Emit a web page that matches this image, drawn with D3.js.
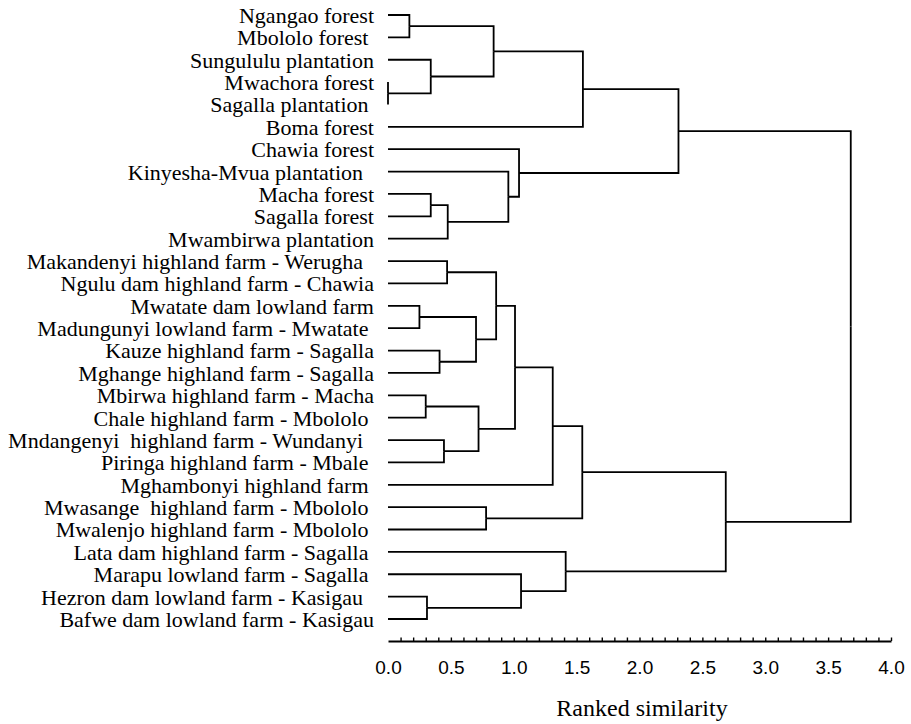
<!DOCTYPE html>
<html>
<head>
<meta charset="utf-8">
<script src="https://cdn.jsdelivr.net/npm/d3@7"></script>
<style>
  html, body { margin: 0; padding: 0; background: #fff; }
  svg { display: block; }
  .serif { font-family: "Liberation Serif", "Times New Roman", "DejaVu Serif", serif; }
  .sans { font-family: "Liberation Sans", Arial, "DejaVu Sans", sans-serif; }
</style>
</head>
<body>
<svg id="chart" width="911" height="724"></svg>
<script>
// Site names, top to bottom (trailing spaces kept as in the source labels)
const leaves = [
  "Ngangao forest",
  "Mbololo forest ",
  "Sungululu plantation",
  "Mwachora forest",
  "Sagalla plantation ",
  "Boma forest",
  "Chawia forest",
  "Kinyesha-Mvua plantation  ",
  "Macha forest",
  "Sagalla forest",
  "Mwambirwa plantation",
  "Makandenyi highland farm - Werugha  ",
  "Ngulu dam highland farm - Chawia",
  "Mwatate dam lowland farm",
  "Madungunyi lowland farm - Mwatate ",
  "Kauze highland farm - Sagalla",
  "Mghange highland farm - Sagalla",
  "Mbirwa highland farm - Macha",
  "Chale highland farm - Mbololo ",
  "Mndangenyi  highland farm - Wundanyi  ",
  "Piringa highland farm - Mbale ",
  "Mghambonyi highland farm ",
  "Mwasange  highland farm - Mbololo ",
  "Mwalenjo highland farm - Mbololo ",
  "Lata dam highland farm - Sagalla ",
  "Marapu lowland farm - Sagalla ",
  "Hezron dam lowland farm - Kasigau  ",
  "Bafwe dam lowland farm - Kasigau"
];

// Linkage: [child A, child B, joining distance]; ids 0-27 are sites,
// merge i gets id 28 + i
const merges = [
  [3, 4, 0.00],
  [0, 1, 0.17],
  [13, 14, 0.25],
  [17, 18, 0.30],
  [26, 27, 0.31],
  [2, 28, 0.34],
  [8, 9, 0.34],
  [15, 16, 0.41],
  [19, 20, 0.445],
  [11, 12, 0.47],
  [34, 10, 0.475],
  [30, 35, 0.70],
  [31, 36, 0.72],
  [22, 23, 0.78],
  [29, 33, 0.84],
  [37, 39, 0.86],
  [7, 38, 0.957],
  [43, 40, 1.01],
  [6, 44, 1.042],
  [25, 32, 1.058],
  [45, 21, 1.31],
  [24, 47, 1.413],
  [48, 41, 1.545],
  [42, 5, 1.55],
  [51, 46, 2.31],
  [50, 49, 2.686],
  [52, 53, 3.68]
];

const axisDomain = [0, 4];
const majorTicks = [0.0, 0.5, 1.0, 1.5, 2.0, 2.5, 3.0, 3.5, 4.0];
const minorTicks = d3.range(1, 41).map(i => i / 10);
const axisTitle = "Ranked similarity";

const svg = d3.select("#chart");

const x = d3.scaleLinear().domain(axisDomain).range([388, 891]);
const y = d3.scalePoint().domain(d3.range(leaves.length)).range([15, 619]);

// Build the cluster tree from the linkage list
const nodes = leaves.map((name, i) => ({ name, index: i, dist: 0 }));
merges.forEach(([a, b, h]) => nodes.push({ children: [nodes[a], nodes[b]], dist: h }));
const root = d3.hierarchy(nodes[nodes.length - 1]);

// Leaves sit on their rows; each join sits midway between its two branches
root.eachAfter(n => {
  n.yPos = n.children ? d3.mean(n.children, c => c.yPos) : y(n.data.index);
});

// Elbow branches
svg.append("g")
  .attr("fill", "none")
  .attr("stroke", "#000")
  .attr("stroke-width", 1.8)
  .selectAll("path")
  .data(root.links())
  .join("path")
  .attr("d", l => `M${x(l.target.data.dist)},${l.target.yPos}H${x(l.source.data.dist)}V${l.source.yPos}`);

// Site labels
svg.append("g")
  .attr("class", "serif")
  .style("font-size", "22px")
  .attr("fill", "#000")
  .selectAll("text")
  .data(root.leaves())
  .join("text")
  .attr("class", "serif")
  .style("white-space", "pre")
  .attr("x", 374)
  .attr("y", d => d.yPos)
  .attr("dy", "0.36em")
  .attr("text-anchor", "end")
  .text(d => d.data.name);

// Distance axis: minor ticks on the line
const axisY = 641;
const minorAxis = svg.append("g")
  .attr("transform", `translate(0,${axisY})`)
  .call(d3.axisBottom(x).tickValues(minorTicks).tickSize(-3.5).tickSizeOuter(0).tickFormat(""));
minorAxis.select(".domain").attr("stroke", "#000").attr("stroke-width", 2);
minorAxis.selectAll(".tick line").attr("stroke", "#000").attr("stroke-width", 1.4);

// Numbered tick labels
const labelAxis = svg.append("g")
  .attr("transform", `translate(0,${axisY})`)
  .call(d3.axisBottom(x).tickValues(majorTicks).tickSize(0).tickPadding(20).tickFormat(d3.format(".1f")));
labelAxis.attr("font-family", null).attr("font-size", null);
labelAxis.select(".domain").remove();
labelAxis.selectAll("text")
  .attr("class", "sans")
  .style("font-size", "19px")
  .attr("fill", "#000");

// Axis title
svg.append("text")
  .attr("class", "serif")
  .attr("x", 642)
  .attr("y", 716)
  .attr("text-anchor", "middle")
  .style("font-size", "24px")
  .attr("fill", "#000")
  .text(axisTitle);
</script>
</body>
</html>
